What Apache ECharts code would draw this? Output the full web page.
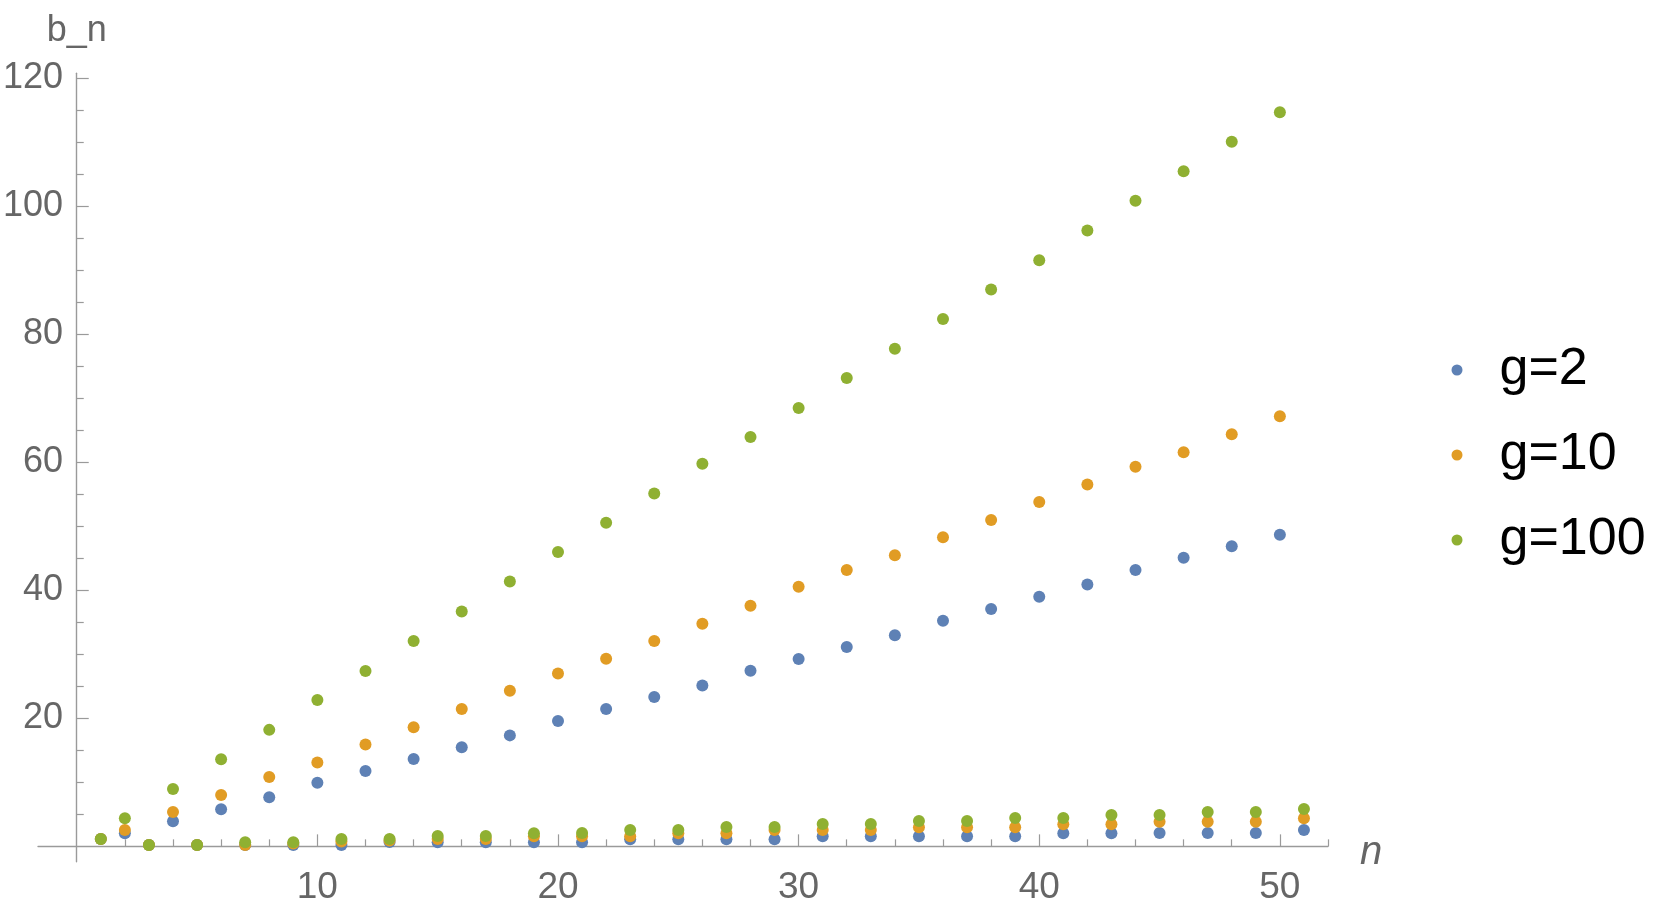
<!DOCTYPE html>
<html>
<head>
<meta charset="utf-8">
<title>b_n</title>
<script src="https://cdn.jsdelivr.net/npm/echarts@6/dist/echarts.min.js"></script>
<style>
  html, body { margin: 0; padding: 0; background: #fff; }
  #main { width: 1661px; height: 913px; }
</style>
</head>
<body>
<div id="main"></div>
<script>
// n values (x)
const nValues = [1, 2, 3, 4, 5, 6, 7, 8, 9, 10, 11, 12, 13, 14, 15, 16, 17, 18, 19, 20,
  21, 22, 23, 24, 25, 26, 27, 28, 29, 30, 31, 32, 33, 34, 35, 36, 37, 38, 39, 40,
  41, 42, 43, 44, 45, 46, 47, 48, 49, 50, 51];

// b_n
const g2 = [1.16, 2.04, 0.22, 3.92, 0.22, 5.8, 0.22, 7.67, 0.22, 9.95,
  0.22, 11.78, 0.66, 13.66, 0.64, 15.47, 0.64, 17.34, 0.64, 19.6,
  0.64, 21.45, 1.1, 23.33, 1.1, 25.15, 1.1, 27.45, 1.1, 29.27,
  1.57, 31.14, 1.57, 33.0, 1.57, 35.25, 1.57, 37.08, 1.57, 39.0,
  2.04, 40.9, 2.04, 43.2, 2.1, 45.1, 2.1, 46.9, 2.1, 48.7, 2.56];

const g10 = [1.16, 2.56, 0.22, 5.37, 0.22, 8.03, 0.22, 10.84, 0.43, 13.1,
  0.75, 15.9, 0.9, 18.6, 1.16, 21.45, 1.16, 24.3, 1.57, 27.0,
  1.57, 29.3, 1.57, 32.1, 2.04, 34.8, 2.04, 37.6, 2.56, 40.55,
  2.56, 43.2, 2.56, 45.5, 2.98, 48.3, 2.98, 51.0, 2.98, 53.8,
  3.45, 56.55, 3.45, 59.3, 3.86, 61.6, 3.86, 64.4, 3.86, 67.2, 4.38];

const g100 = [1.16, 4.38, 0.22, 8.95, 0.22, 13.6, 0.64, 18.2, 0.64, 22.86,
  1.16, 27.4, 1.16, 32.1, 1.62, 36.7, 1.62, 41.4, 2.05, 46.0,
  2.1, 50.56, 2.56, 55.15, 2.56, 59.8, 3.03, 63.95, 3.03, 68.5,
  3.5, 73.2, 3.5, 77.75, 3.97, 82.4, 3.97, 87.0, 4.44, 91.6,
  4.44, 96.25, 4.9, 100.9, 4.9, 105.5, 5.37, 110.1, 5.37, 114.7, 5.84];

const seriesNames = ['g=2', 'g=10', 'g=100'];
const colors = ['#5e81b5', '#e19c24', '#8fb032'];

// ticks
const xMajor = [10, 20, 30, 40, 50];
const xMinor = [2, 4, 6, 8, 12, 14, 16, 18, 22, 24, 26, 28, 32, 34, 36, 38, 42, 44, 46, 48, 52];
const yMajor = [20, 40, 60, 80, 100, 120];
const yMinor = [5, 10, 15, 25, 30, 35, 45, 50, 55, 65, 70, 75, 85, 90, 95, 105, 110, 115];

const font = 'Liberation Sans, Arial, sans-serif';
const axisGray = '#9a9a9a';
const labelGray = '#666666';

let myChart = echarts.init(document.getElementById('main'));

function pairs(ys) {
  return nValues.map((n, i) => [n, ys[i]]);
}

let option = {
  animation: false,
  backgroundColor: '#ffffff',
  color: colors,
  textStyle: { fontFamily: font },
  grid: { left: 38, right: 333, top: 73.3, bottom: 51.3, containLabel: false, outerBoundsMode: 'none' },
  legend: {
    orient: 'vertical',
    left: 1451.5,
    top: 344,
    padding: 0,
    itemWidth: 11,
    itemHeight: 11,
    itemGap: 33,
    icon: 'circle',
    selectedMode: false,
    textStyle: { fontFamily: font, fontSize: 52, lineHeight: 52, color: '#000', padding: [0, 0, 0, 32] },
    data: seriesNames
  },
  xAxis: [
    {
      type: 'value',
      min: -1.61,
      max: 52,
      name: '{it|n}',
      nameLocation: 'end',
      nameGap: 32,
      nameTextStyle: {
        rich: {
          it: { fontFamily: font, fontSize: 40, fontStyle: 'italic', color: labelGray, padding: [14, 0, 0, 0] }
        }
      },
      axisLine: { onZero: true, onZeroAxisIndex: 0, lineStyle: { color: axisGray, width: 1.4 } },
      axisTick: { inside: true, length: 12, customValues: xMajor, lineStyle: { color: axisGray, width: 1.2 } },
      // labels sit at the grid edge (below the zero line), so the margin is counted from there
      axisLabel: { customValues: xMajor, fontFamily: font, fontSize: 37, color: labelGray, margin: 8 },
      splitLine: { show: false }
    },
    {
      type: 'value',
      min: -1.61,
      max: 52,
      position: 'bottom',
      axisLine: { show: false, onZero: true, onZeroAxisIndex: 0 },
      axisTick: { inside: true, length: 7, customValues: xMinor, lineStyle: { color: axisGray, width: 1.2 } },
      axisLabel: { show: false },
      splitLine: { show: false }
    }
  ],
  yAxis: [
    {
      type: 'value',
      min: -2.4,
      max: 120.8,
      name: 'b_n',
      nameLocation: 'end',
      nameGap: 24,
      nameTextStyle: { fontFamily: font, fontSize: 36, color: labelGray },
      axisLine: { onZero: true, onZeroAxisIndex: 0, lineStyle: { color: axisGray, width: 1.4 } },
      axisTick: { inside: true, length: 12, customValues: yMajor, lineStyle: { color: axisGray, width: 1.2 } },
      // grid left edge is left of x=0, pull labels back next to the zero line
      axisLabel: { customValues: yMajor, fontFamily: font, fontSize: 36, color: labelGray, margin: -25, padding: [4, 0, 0, 0] },
      splitLine: { show: false }
    },
    {
      type: 'value',
      min: -2.4,
      max: 120.8,
      position: 'left',
      axisLine: { show: false, onZero: true, onZeroAxisIndex: 0 },
      axisTick: { inside: true, length: 7, customValues: yMinor, lineStyle: { color: axisGray, width: 1.2 } },
      axisLabel: { show: false },
      splitLine: { show: false }
    }
  ],
  series: [
    { name: seriesNames[0], type: 'scatter', symbolSize: 12, itemStyle: { opacity: 1 }, data: pairs(g2) },
    { name: seriesNames[1], type: 'scatter', symbolSize: 12, itemStyle: { opacity: 1 }, data: pairs(g10) },
    { name: seriesNames[2], type: 'scatter', symbolSize: 12, itemStyle: { opacity: 1 }, data: pairs(g100) }
  ]
};

myChart.setOption(option);
</script>
</body>
</html>
